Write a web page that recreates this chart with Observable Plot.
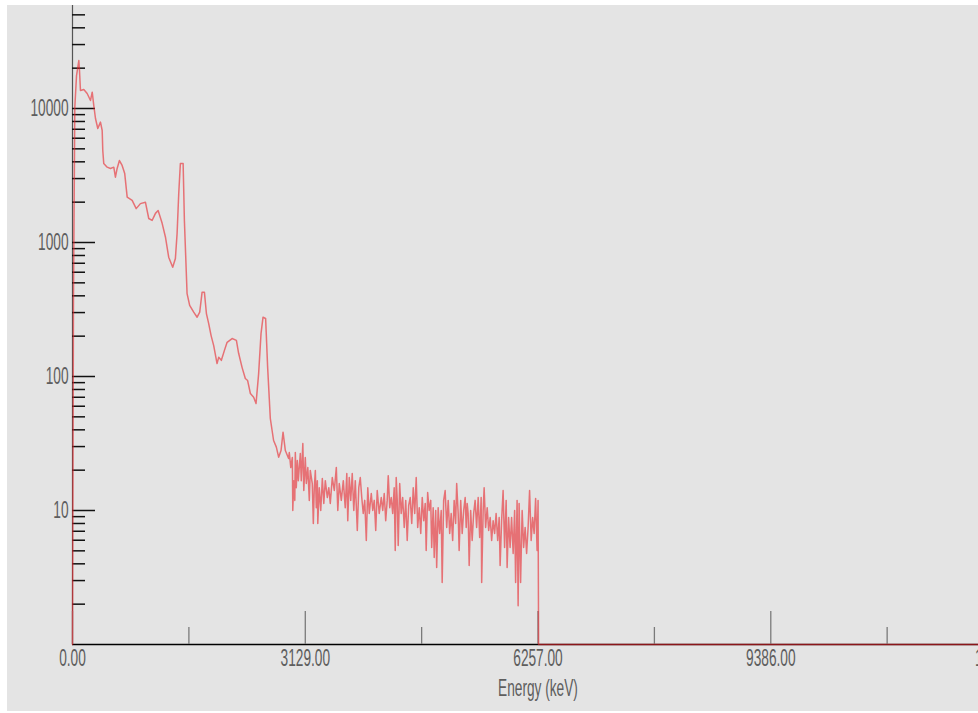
<!DOCTYPE html>
<html>
<head>
<meta charset="utf-8">
<script src="https://cdn.jsdelivr.net/npm/d3@7"></script>
<script src="https://cdn.jsdelivr.net/npm/@observablehq/plot@0.6"></script>
<style>
  html, body { margin: 0; padding: 0; background: #ffffff; width: 978px; height: 713px; overflow: hidden; }
  #chart { position: absolute; left: 7px; top: 5px; width: 1006px; }
  #chart svg { max-width: none !important; font-family: "Liberation Sans", Arial, sans-serif; }
</style>
</head>
<body>
<div id="chart"></div>
<script>
// Spectrum: energy (keV) and counts
const energy = [
  0, 13, 31, 54, 85, 94, 107, 152, 197, 242, 265, 286, 309, 340, 376, 399, 407, 420, 466, 510,
  555, 577, 600, 631, 667, 702, 735, 802, 856, 913, 980, 1025, 1070, 1115, 1151, 1205, 1249, 1293, 1347, 1383,
  1406, 1428, 1450, 1487, 1504, 1540, 1575, 1629, 1675, 1710, 1742, 1773, 1800, 1830, 1863, 1898, 1943, 1965, 2001, 2041,
  2078, 2145, 2203, 2233, 2279, 2323, 2354, 2391, 2435, 2467, 2502, 2534, 2561, 2596, 2623, 2659, 2703, 2740, 2771, 2803,
  2830, 2861, 2905,
  2914, 2934, 2955, 2961, 2975, 2988, 2995, 3008, 3022, 3035, 3062, 3075, 3096, 3109, 3129, 3143, 3163, 3183, 3196, 3223,
  3237, 3250, 3264, 3277, 3291, 3297, 3317, 3337, 3358, 3378, 3398, 3425, 3445, 3465, 3492, 3519, 3546, 3566, 3586, 3613,
  3640, 3666, 3687, 3700, 3720, 3740, 3760, 3781, 3801, 3828, 3848, 3868, 3888, 3908, 3928, 3949, 3969, 3989, 4016, 4036,
  4056, 4076, 4096, 4123, 4150, 4170, 4190, 4210, 4230, 4244, 4264, 4284, 4304, 4324, 4338, 4351, 4365, 4378, 4398, 4418,
  4438, 4459, 4479, 4499, 4519, 4539, 4560, 4580, 4600, 4620, 4640, 4661, 4681, 4701, 4721, 4741, 4754, 4774, 4794, 4815,
  4828, 4848, 4862, 4882, 4895, 4915, 4935, 4956, 4969, 4989, 5009, 5030, 5050, 5070, 5090, 5110, 5130, 5150, 5164, 5184,
  5197, 5218, 5238, 5258, 5278, 5292, 5305, 5318, 5332, 5352, 5372, 5392, 5412, 5432, 5453, 5473, 5493, 5500, 5520, 5533,
  5553, 5574, 5594, 5614, 5634, 5654, 5674, 5694, 5715, 5735, 5748, 5768, 5788, 5808, 5829, 5842, 5862, 5882, 5902, 5923,
  5943, 5956, 5976, 5990, 6003, 6023, 6044, 6064, 6084, 6104, 6124, 6144, 6165, 6185, 6205, 6225, 6245, 6258, 6265, 12514
];
const counts = [
  1, 369, 10170, 17600, 22800, 19200, 13620, 13860, 12940, 11480, 13240, 10530, 8420, 7090, 7910, 6850, 4860, 3890, 3650, 3570,
  3650, 3070, 3570, 4090, 3760, 3270, 2180, 2060, 1790, 1950, 2000, 1510, 1460, 1650, 1730, 1390, 1100, 777, 654, 760,
  1170, 2320, 3890, 3890, 1460, 416, 339, 302, 277, 302, 426, 426, 295, 249, 202, 170, 125, 139, 132, 156,
  180, 192, 186, 149, 117, 96.6, 93.3, 74.7, 70.1, 62.9, 105, 209, 277, 271, 117, 48.6, 33.3, 29.7, 25.0, 28.0,
  38.4, 28.0, 24.4,
  27.1, 20.9, 24.9, 10.0, 16.7, 11.9, 27.1, 14.8, 23.6, 16.7, 26.6, 16.7, 31.6, 14.1, 24.9, 15.9, 20.9, 11.9, 19.9, 15.9,
  8.0, 14.8, 19.9, 10.5, 16.7, 8.0, 14.8, 10.0, 17.3, 11.3, 16.7, 12.5, 14.8, 11.3, 17.6, 14.1, 20.9, 10.0, 15.9, 11.9,
  16.7, 10.5, 18.9, 8.4, 17.6, 11.9, 18.9, 10.0, 16.7, 7.1, 14.8, 17.6, 12.5, 9.5, 11.9, 5.97, 14.8, 9.5, 13.4, 10.0,
  11.9, 7.1, 14.1, 9.5, 12.5, 10.0, 13.4, 8.4, 11.9, 18.2, 10.5, 12.5, 9.5, 14.8, 5.03, 17.6, 11.9, 5.48, 15.9, 9.5,
  12.5, 7.47, 11.9, 5.97, 10.9, 12.5, 8.0, 14.8, 9.5, 17.6, 7.47, 10.5, 6.74, 12.5, 8.4, 11.3, 5.03, 13.6, 10.0, 11.9,
  5.30, 10.5, 4.46, 10.0, 3.75, 10.5, 6.74, 10.0, 2.90, 11.9, 14.1, 7.47, 11.9, 6.74, 9.5, 5.97, 11.9, 8.0, 15.9, 9.5,
  5.03, 11.9, 6.74, 10.0, 12.5, 7.47, 11.3, 9.5, 3.89, 10.0, 5.97, 9.5, 11.9, 7.47, 12.5, 6.29, 12.5, 2.90, 10.0, 14.8,
  7.47, 10.5, 7.1, 8.87, 5.97, 8.4, 6.74, 9.5, 5.97, 8.87, 3.89, 8.4, 14.1, 5.30, 11.9, 3.75, 8.87, 5.30, 8.87, 4.78,
  10.0, 2.90, 11.9, 1.95, 11.3, 2.90, 10.0, 5.30, 7.47, 4.78, 7.47, 14.1, 5.97, 8.87, 6.74, 12.3, 5.03, 11.9, 1, 1
];

// Axis ticks
const xMajorTicks = [0, 3129, 6257, 9386, 12514];
const xMinorTicks = [1564.5, 4693, 7821.5, 10950];
const yMajorTicks = [10, 100, 1000, 10000];
const yLabelTicks = [10, 100, 1000, 10000];
const yMinorTicks = [2, 3, 4, 5, 6, 7, 8, 9, 20, 30, 40, 50, 60, 70, 80, 90,
  200, 300, 400, 500, 600, 700, 800, 900, 2000, 3000, 4000, 5000, 6000, 7000, 8000, 9000,
  20000, 30000, 40000, 50000];
const xDomain = [0, 12514];
const yDomain = [1, 58700];

const spectrum = energy.map((e, i) => ({energy: e, counts: counts[i]}));

const chart = Plot.plot({
  width: 1006,
  height: 706,
  marginLeft: 65,
  marginRight: 10,
  marginTop: 0,
  marginBottom: 67,
  style: {background: "#e4e4e4", overflow: "visible"},
  x: {domain: xDomain},
  y: {type: "log", domain: yDomain},
  marks: [
    Plot.ruleX([0], {stroke: "#555555", strokeWidth: 1.2}),
    Plot.ruleY([1], {stroke: "#000000", strokeWidth: 1.5}),
    Plot.axisX(xMajorTicks, {tickSize: -33, tickFormat: () => "", stroke: "#7a7a7a", strokeWidth: 1.3, label: null}),
    Plot.axisX(xMinorTicks, {tickSize: -17, tickFormat: () => "", stroke: "#7a7a7a", strokeWidth: 1.3, label: null}),
    Plot.axisX(xMajorTicks, {tickSize: 0, tickPadding: 5, tickFormat: d => d.toFixed(2), fill: "#5e5e5e",
      fontSize: 19, label: "Energy (keV)", labelAnchor: "center", labelArrow: "none", labelOffset: 51}),
    Plot.axisY(yMajorTicks, {tickSize: -23, tickFormat: () => "", stroke: "#111111", strokeWidth: 1.5, label: null}),
    Plot.axisY(yMinorTicks, {tickSize: -13, tickFormat: () => "", stroke: "#111111", strokeWidth: 1.5, label: null}),
    Plot.axisY(yLabelTicks, {tickSize: 0, tickPadding: 4, tickFormat: d => String(d), fill: "#5e5e5e",
      fontSize: 19, label: null}),
    Plot.line(spectrum, {x: "energy", y: "counts", stroke: "#e8242c", strokeWidth: 1.5, strokeOpacity: 0.6})
  ]
});
// condensed, tall lettering like the original software
d3.select(chart).selectAll("text").each(function() {
  const t = this.getAttribute("transform") || "";
  this.setAttribute("transform", (t + " scale(0.72,1.25)").trim());
});
document.getElementById("chart").appendChild(chart);
</script>
</body>
</html>
